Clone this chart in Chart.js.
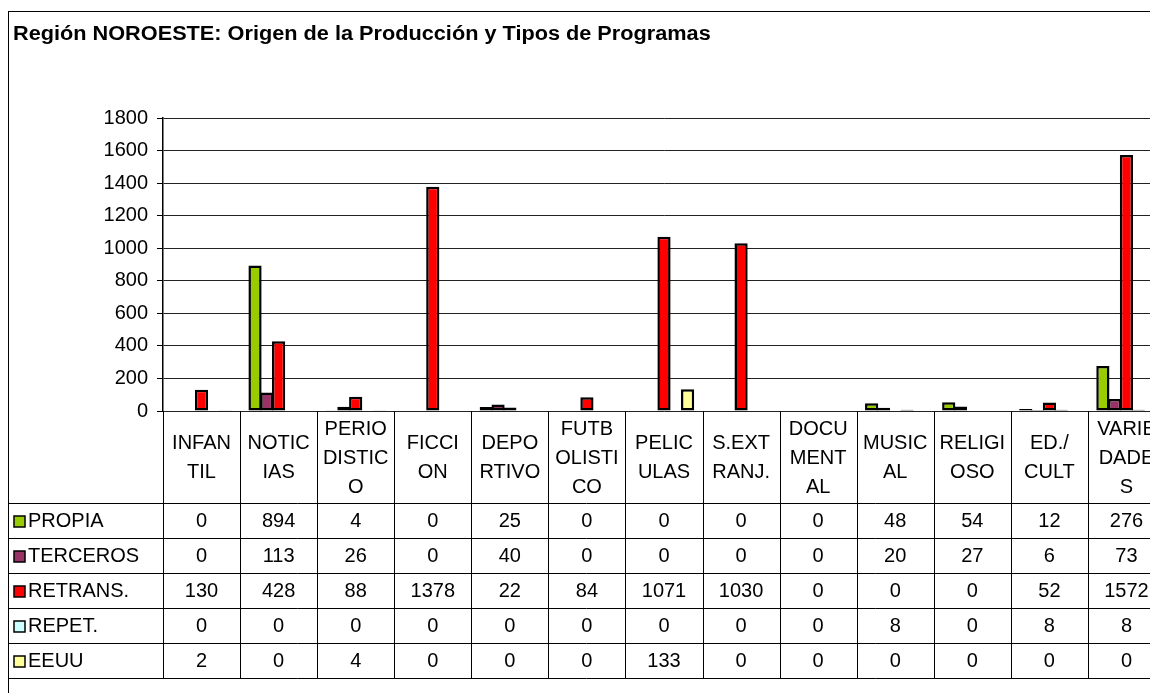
<!DOCTYPE html>
<html><head><meta charset="utf-8">
<script src="https://cdn.jsdelivr.net/npm/chart.js@4.4.1/dist/chart.umd.min.js"></script>
<style>
html,body{margin:0;padding:0;overflow:hidden;background:#fff;width:1150px;height:693px}
#wrap{position:absolute;left:0;top:0;width:1200px;height:693px}
</style>
</head><body><div id="wrap"><canvas id="c" width="1200" height="693"></canvas></div>
<script>
const chartTitle = 'Región NOROESTE: Origen de la Producción y Tipos de Programas';
const categories = [
  ['INFAN','TIL'], ['NOTIC','IAS'], ['PERIO','DISTIC','O'], ['FICCI','ON'],
  ['DEPO','RTIVO'], ['FUTB','OLISTI','CO'], ['PELIC','ULAS'], ['S.EXT','RANJ.'],
  ['DOCU','MENT','AL'], ['MUSIC','AL'], ['RELIGI','OSO'], ['ED./','CULT'], ['VARIE','DADE','S']
];
const seriesNames = ['PROPIA','TERCEROS','RETRANS.','REPET.','EEUU'];
const propia   = [0, 894, 4, 0, 25, 0, 0, 0, 0, 48, 54, 12, 276];
const terceros = [0, 113, 26, 0, 40, 0, 0, 0, 0, 20, 27, 6, 73];
const retrans  = [130, 428, 88, 1378, 22, 84, 1071, 1030, 0, 0, 0, 52, 1572];
const repet    = [0, 0, 0, 0, 0, 0, 0, 0, 0, 8, 0, 8, 8];
const eeuu     = [2, 0, 4, 0, 0, 0, 133, 0, 0, 0, 0, 0, 0];
const yMin = 0, yMax = 1800, yStep = 200;
const seriesColors = ['#99CC00','#993366','#FF0000','#CCFFFF','#FFFF99'];
const seriesValues = [propia, terceros, retrans, repet, eeuu];

const FONT = '"Liberation Sans", Arial, sans-serif';

const tablePlugin = {
  id: 'tablePlugin',
  beforeDraw(chart) {
    const ctx = chart.ctx;
    ctx.save();
    ctx.fillStyle = '#fff';
    ctx.fillRect(0, 0, chart.width, chart.height);
    ctx.restore();
  },
  afterDraw(chart) {
    const ctx = chart.ctx;
    const a = chart.chartArea;
    const xs = chart.scales.x;
    const n = categories.length;
    const w = (a.right - a.left) / n;
    const headTop = a.bottom;
    const headBot = a.bottom + 92;
    const rowH = 35;
    const tableBot = headBot + rowH * seriesNames.length;
    ctx.save();
    ctx.strokeStyle = '#000';
    ctx.lineWidth = 1;
    // outer frame
    ctx.strokeRect(8.5, 11.5, chart.width - 20, 800);
    // title
    ctx.fillStyle = '#000';
    ctx.font = 'bold 20px ' + FONT;
    ctx.textAlign = 'left';
    ctx.textBaseline = 'alphabetic';
    ctx.save();
    ctx.translate(13, 40);
    ctx.scale(1.085, 1);
    ctx.fillText(chartTitle, 0, 0);
    ctx.restore();
    // vertical dividers
    ctx.beginPath();
    for (let i = 0; i <= n; i++) {
      const x = Math.round(a.left + i * w) + 0.5;
      ctx.moveTo(x, headTop);
      ctx.lineTo(x, tableBot);
    }
    // horizontal lines
    for (let k = 0; k <= seriesNames.length; k++) {
      const y = Math.round(headBot + k * rowH) + 0.5;
      ctx.moveTo(8, y);
      ctx.lineTo(a.right, y);
    }
    ctx.stroke();
    // category labels
    ctx.font = '20px ' + FONT;
    ctx.textAlign = 'center';
    ctx.textBaseline = 'middle';
    const lh = 29;
    const cy = (headTop + headBot) / 2 + 1;
    categories.forEach((lines, i) => {
      const cx = xs.getPixelForValue(i);
      const start = cy - (lines.length - 1) * lh / 2;
      lines.forEach((t, j) => ctx.fillText(t, cx, start + j * lh));
    });
    // rows
    seriesNames.forEach((name, s) => {
      const yc = headBot + s * rowH + rowH / 2 + 1;
      ctx.fillStyle = seriesColors[s];
      ctx.fillRect(14, Math.round(yc - 6), 11, 11);
      ctx.lineWidth = 1.5;
      ctx.strokeRect(14, Math.round(yc - 6), 11, 11);
      ctx.fillStyle = '#000';
      ctx.textAlign = 'left';
      ctx.fillText(name, 28, yc);
      ctx.textAlign = 'center';
      seriesValues[s].forEach((v, i) => {
        ctx.fillText(String(v), xs.getPixelForValue(i), yc);
      });
    });
    ctx.restore();
  }
};

new Chart(document.getElementById('c'), {
  type: 'bar',
  data: {
    labels: categories,
    datasets: seriesNames.map((name, s) => ({
      label: name,
      data: seriesValues[s],
      backgroundColor: seriesColors[s],
      borderColor: '#000',
      borderWidth: 2.5,
      borderSkipped: false,
      categoryPercentage: 0.765,
      barPercentage: 1.12
    }))
  },
  options: {
    responsive: false,
    animation: false,
    events: [],
    layout: { padding: { top: 118, bottom: 282, left: 0, right: 35 } },
    plugins: { legend: { display: false }, title: { display: false }, tooltip: { enabled: false } },
    scales: {
      x: { display: false },
      y: {
        min: yMin, max: yMax,
        ticks: { stepSize: yStep, color: '#000', font: { family: FONT, size: 20 }, padding: 9,
                 callback: (v) => String(v) },
        grid: { color: '#222', lineWidth: 1, tickLength: 6, tickColor: '#000' },
        border: { display: true, color: '#000', width: 1.5 },
        afterFit(scale) { scale.width = 163; }
      }
    }
  },
  plugins: [tablePlugin]
});
</script>
</body></html>
